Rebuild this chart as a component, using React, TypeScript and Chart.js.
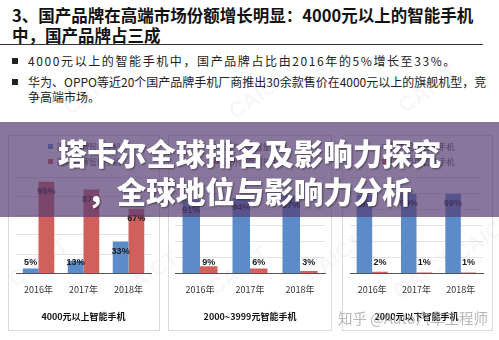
import React, { useEffect, useRef } from "react";
import { Chart, registerables } from "chart.js";

Chart.register(...registerables);

// ---- data ----
const years = ["2016年", "2017年", "2018年"];
const seriesNames = ["国产品牌智能手机", "国外品牌智能手机"];
const highDomestic = [5, 13, 33];
const highForeign = [95, 87, 67];
const midDomestic = [91, 94, 97];
const midForeign = [9, 6, 3];
const lowDomestic = [98, 99, 99];
const lowForeign = [2, 1, 1];
const panelTitles = ["4000元以上智能手机", "2000~3999元智能手机", "2000元以下智能手机"];
const panelMax = [100, 120, 120];

const headline1 = "3、国产品牌在高端市场份额增长明显：4000元以上的智能手机";
const headline2 = "中，国产品牌占三成";
const bullet1 = "4000元以上的智能手机中，国产品牌占比由2016年的5%增长至33%。";
const bullet2a = "华为、OPPO等近20个国产品牌手机厂商推出30余款售价在4000元以上的旗舰机型，竞";
const bullet2b = "争高端市场。";
const bannerLine1 = "塔卡尔全球排名及影响力探究";
const bannerLine2 = "，全球地位与影响力分析";
const watermark = "知乎 @Auto汽车工程师";

const BLUE = "#5B8BC9";
const RED = "#D0605C";
const CJK = '"Noto Sans CJK SC", "Noto Sans", sans-serif';

const valueLabels = {
  id: "valueLabels",
  afterDatasetsDraw(chart: any) {
    const ctx = chart.ctx;
    ctx.save();
    ctx.font = 'bold 9px "Liberation Sans", Arial, sans-serif';
    ctx.fillStyle = "#1a1a1a";
    ctx.textAlign = "center";
    ctx.textBaseline = "middle";
    chart.data.datasets.forEach((ds: any, di: number) => {
      const meta = chart.getDatasetMeta(di);
      meta.data.forEach((bar: any, i: number) => {
        const p = bar.getProps(["x", "y", "base"], true);
        const y = Math.min(p.y + 10, p.base - 10);
        ctx.fillText(ds.data[i] + "%", p.x, y);
      });
    });
    ctx.restore();
  },
};

type PanelProps = {
  left: number;
  width: number;
  padL: number;
  padR: number;
  domestic: number[];
  foreign: number[];
  title: string;
  max: number;
};

function Panel({ left, width, padL, padR, domestic, foreign, title, max }: PanelProps) {
  const ref = useRef<HTMLCanvasElement | null>(null);
  useEffect(() => {
    if (!ref.current) return;
    const chart = new Chart(ref.current, {
      type: "bar",
      data: {
        labels: years,
        datasets: [
          { label: seriesNames[0], data: domestic, backgroundColor: BLUE, categoryPercentage: 0.7, barPercentage: 1 },
          { label: seriesNames[1], data: foreign, backgroundColor: RED, categoryPercentage: 0.7, barPercentage: 1 },
        ],
      },
      options: {
        responsive: false,
        animation: false,
        layout: { padding: { left: padL, right: padR, top: 42, bottom: 5 } },
        plugins: { legend: { display: false }, tooltip: { enabled: false } },
        scales: {
          x: {
            grid: { display: false, drawTicks: false },
            border: { display: true, color: "#555", width: 1 },
            ticks: { padding: 11, color: "#333", font: { size: 9, family: CJK } },
            title: {
              display: true,
              text: title,
              color: "#111",
              font: { size: 9, weight: "bold", family: CJK },
              padding: { top: 5, bottom: 4 },
            },
          },
          y: {
            min: 0,
            max,
            ticks: { display: false, stepSize: 20 },
            grid: { color: "#E3E3E3", drawTicks: false },
            border: { display: false },
          },
        },
      },
      plugins: [valueLabels],
    } as any);
    return () => chart.destroy();
  }, []);
  return (
    <>
      <div
        style={{
          position: "absolute",
          left,
          top: 135,
          width,
          height: 196,
          border: "1px solid #DADADA",
          boxSizing: "border-box",
        }}
      />
      <canvas
        ref={ref}
        width={width}
        height={196}
        style={{ position: "absolute", left, top: 135, width, height: 196, display: "block" }}
      />
      <div
        style={{
          position: "absolute",
          left: left + width / 2 - 36,
          top: 139,
          fontFamily: CJK,
          fontSize: 8,
          color: "#444",
          lineHeight: "15px",
        }}
      >
        {seriesNames.map((n, i) => (
          <div key={n} style={{ display: "flex", alignItems: "center", whiteSpace: "nowrap" }}>
            <span style={{ width: 5, height: 5, background: i === 0 ? BLUE : RED, marginRight: 4, display: "inline-block" }} />
            {n}
          </div>
        ))}
      </div>
    </>
  );
}

const caictMarks = [
  [60, 78], [225, 82], [395, 76], [5, 250], [115, 262], [205, 258], [300, 245], [390, 262], [450, 225],
];

export default function App() {
  return (
    <div
      style={{
        position: "fixed",
        left: 0,
        top: 0,
        width: 499,
        height: 340,
        background: "#fff",
        overflow: "hidden",
        fontFamily: CJK,
      }}
    >
      {caictMarks.map(([x, y], i) => (
        <div
          key={i}
          style={{
            position: "absolute",
            left: x,
            top: y,
            fontFamily: "Liberation Sans, Arial, sans-serif",
            fontWeight: 700,
            fontSize: 22,
            color: "rgba(0,0,0,0.05)",
            transform: "rotate(-35deg)",
          }}
        >
          CAICT
        </div>
      ))}
      <div
        style={{
          position: "absolute",
          left: 12,
          top: 5,
          fontSize: 16.5,
          fontWeight: 700,
          lineHeight: "20px",
          color: "#111",
          whiteSpace: "nowrap",
        }}
      >
        {headline1}
        <br />
        {headline2}
      </div>
      <div style={{ position: "absolute", left: 0, top: 44, width: 483, height: 1, background: "#333" }} />
      <div style={{ position: "absolute", left: 12, top: 58, width: 6, height: 6, background: "#222" }} />
      <div style={{ position: "absolute", left: 12, top: 79, width: 6, height: 6, background: "#222" }} />
      <div
        style={{
          position: "absolute",
          left: 28,
          top: 53,
          fontSize: 12,
          letterSpacing: 1.6,
          lineHeight: "16px",
          color: "#222",
          whiteSpace: "nowrap",
        }}
      >
        {bullet1}
      </div>
      <div
        style={{
          position: "absolute",
          left: 28,
          top: 74,
          fontSize: 12,
          lineHeight: "15px",
          color: "#222",
          whiteSpace: "nowrap",
        }}
      >
        {bullet2a}
        <br />
        {bullet2b}
      </div>

      <Panel left={8} width={152} padL={8} padR={9} domestic={highDomestic} foreign={highForeign} title={panelTitles[0]} max={panelMax[0]} />
      <Panel left={168} width={164} padL={7} padR={7} domestic={midDomestic} foreign={midForeign} title={panelTitles[1]} max={panelMax[1]} />
      <Panel left={342} width={151} padL={8} padR={10} domestic={lowDomestic} foreign={lowForeign} title={panelTitles[2]} max={panelMax[2]} />

      <div
        style={{
          position: "absolute",
          left: 338,
          top: 308,
          fontSize: 14.5,
          lineHeight: "20px",
          color: "rgba(160,160,160,0.75)",
          whiteSpace: "nowrap",
        }}
      >
        {watermark}
      </div>

      <div
        style={{
          position: "absolute",
          left: 0,
          top: 122,
          width: 499,
          height: 95,
          background: "rgba(86,60,114,0.7)",
        }}
      />
      <div
        style={{
          position: "absolute",
          left: 0,
          top: 133,
          width: 499,
          textAlign: "center",
          fontSize: 29.5,
          fontWeight: 900,
          lineHeight: "38px",
          color: "#fff",
          whiteSpace: "nowrap",
          textShadow: "1px 1px 2px rgba(0,0,0,0.45)",
        }}
      >
        {bannerLine1}
        <br />
        {bannerLine2}
      </div>
    </div>
  );
}
